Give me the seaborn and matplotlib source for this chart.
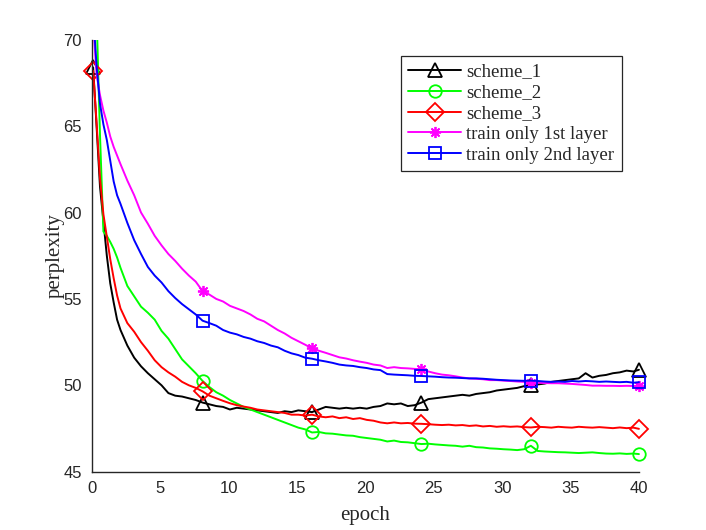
import numpy as np
import pandas as pd
import matplotlib
matplotlib.use("Agg")
import matplotlib.pyplot as plt
from matplotlib.patches import Rectangle
import seaborn as sns

# ---------------- data ----------------
epochs = [0.1, 0.35, 0.6, 0.85, 1.1, 1.35, 1.6, 1.85,
          2.1, 2.6, 3.1, 3.6, 4.1, 4.6, 5.1, 5.6, 6.1, 6.6, 7.1, 7.6,
          8.1, 8.6, 9.1, 9.6, 10.1, 10.6, 11.1, 11.6, 12.1, 12.6,
          13.1, 13.6, 14.1, 14.6, 15.1, 15.6, 16.1, 16.6, 17.1, 17.6,
          18.1, 18.6, 19.1, 19.6, 20.1, 20.6, 21.1, 21.6, 22.1, 22.6,
          23.1, 23.6, 24.1, 24.6, 25.1, 25.6, 26.1, 26.6, 27.1, 27.6,
          28.1, 28.6, 29.1, 29.6, 30.1, 30.6, 31.1, 31.6, 32.1, 32.6,
          33.1, 33.6, 34.1, 34.6, 35.1, 35.6, 36.1, 36.6, 37.1, 37.6,
          38.1, 38.6, 39.1, 39.6, 40.0]

scheme_1 = [68.4, 65.0, 61.5, 59.5, 57.5, 55.9, 54.8, 53.8,
            53.2, 52.3, 51.6, 51.1, 50.7, 50.35, 50.0, 49.55, 49.4, 49.35, 49.25, 49.15,
            49.0, 48.9, 48.8, 48.75, 48.6, 48.7, 48.65, 48.6, 48.55, 48.5,
            48.45, 48.4, 48.5, 48.45, 48.55, 48.5, 48.45, 48.6, 48.75, 48.7,
            48.65, 48.7, 48.65, 48.7, 48.65, 48.75, 48.8, 48.95, 48.9, 48.95,
            48.8, 48.85, 49.0, 49.2, 49.25, 49.3, 49.35, 49.4, 49.45, 49.4,
            49.5, 49.55, 49.6, 49.7, 49.75, 49.8, 49.85, 49.95, 50.0, 50.05,
            50.1, 50.2, 50.25, 50.3, 50.35, 50.4, 50.7, 50.45, 50.55, 50.6,
            50.7, 50.75, 50.85, 50.8, 50.9]

scheme_2 = [75.0, 71.5, 64.5, 58.9, 58.65, 58.3, 57.9, 57.4,
            56.8, 55.75, 55.15, 54.55, 54.2, 53.8, 53.15, 52.7, 52.1, 51.5, 51.1, 50.7,
            50.25, 49.9, 49.6, 49.4, 49.15, 48.95, 48.75, 48.6, 48.45, 48.3,
            48.15, 48.0, 47.85, 47.7, 47.55, 47.45, 47.27, 47.3, 47.22, 47.2,
            47.15, 47.1, 47.08, 47.0, 46.95, 46.9, 46.85, 46.75, 46.8, 46.72,
            46.7, 46.65, 46.6, 46.62, 46.58, 46.55, 46.52, 46.5, 46.45, 46.5,
            46.42, 46.4, 46.35, 46.33, 46.3, 46.28, 46.25, 46.3, 46.5, 46.2,
            46.17, 46.15, 46.13, 46.12, 46.1, 46.08, 46.1, 46.12, 46.08, 46.05,
            46.04, 46.06, 46.03, 46.05, 46.02]

scheme_3 = [68.2, 65.2, 62.0, 59.9, 58.6, 57.3, 56.2, 55.2,
            54.45, 53.6, 53.1, 52.5, 52.0, 51.45, 51.05, 50.75, 50.5, 50.2, 50.0, 49.85,
            49.65, 49.4, 49.25, 49.1, 48.96, 48.85, 48.77, 48.7, 48.6, 48.55,
            48.5, 48.45, 48.4, 48.3, 48.3, 48.25, 48.3, 48.2, 48.15, 48.2,
            48.1, 48.15, 48.05, 48.1, 48.0, 47.95, 47.85, 47.8, 47.85, 47.8,
            47.82, 47.78, 47.77, 47.75, 47.72, 47.7, 47.72, 47.68, 47.7, 47.65,
            47.68, 47.62, 47.65, 47.6, 47.63, 47.6, 47.62, 47.58, 47.56, 47.6,
            47.58, 47.55, 47.6, 47.57, 47.55, 47.6, 47.57, 47.55, 47.58, 47.55,
            47.52, 47.56, 47.52, 47.55, 47.48]

train_1st = [71.0, 68.0, 66.8, 65.9, 65.2, 64.4, 63.8, 63.3,
             62.8, 61.85, 61.0, 60.0, 59.35, 58.65, 58.1, 57.6, 57.2, 56.75, 56.35, 56.0,
             55.45, 55.25, 55.0, 54.85, 54.6, 54.45, 54.3, 54.1, 53.85, 53.7,
             53.45, 53.2, 53.0, 52.75, 52.55, 52.35, 52.14, 52.0, 51.88, 51.75,
             51.62, 51.55, 51.45, 51.37, 51.3, 51.2, 51.15, 51.0, 51.05, 51.0,
             50.98, 50.95, 50.93, 50.8, 50.7, 50.62, 50.58, 50.52, 50.45, 50.4,
             50.38, 50.35, 50.3, 50.3, 50.27, 50.25, 50.22, 50.2, 50.16, 50.15,
             50.13, 50.12, 50.12, 50.1, 50.08, 50.05, 50.02, 49.98, 49.98, 49.97,
             49.97, 49.96, 49.97, 49.96, 49.97]

train_2nd = [71.5, 68.5, 66.3, 65.1, 64.2, 63.0, 61.8, 61.0,
             60.5, 59.4, 58.4, 57.6, 56.85, 56.35, 55.95, 55.45, 55.05, 54.7, 54.4, 54.1,
             53.74, 53.6, 53.45, 53.2, 53.05, 52.95, 52.8, 52.7, 52.55, 52.45,
             52.3, 52.2, 52.0, 51.85, 51.75, 51.6, 51.54, 51.45, 51.38, 51.3,
             51.2, 51.15, 51.12, 51.05, 51.0, 50.92, 50.88, 50.65, 50.62, 50.6,
             50.58, 50.55, 50.54, 50.52, 50.5, 50.47, 50.45, 50.44, 50.42, 50.4,
             50.4, 50.38, 50.35, 50.32, 50.3, 50.28, 50.27, 50.26, 50.27, 50.25,
             50.22, 50.2, 50.22, 50.2, 50.25, 50.22, 50.25, 50.23, 50.2, 50.22,
             50.2, 50.18, 50.2, 50.15, 50.18]

series_names = ["scheme_1", "scheme_2", "scheme_3",
                "train only 1st layer", "train only 2nd layer"]
marker_epochs = [0.1, 8.1, 16.1, 24.1, 32.1, 40.0]
x_ticks = [0, 5, 10, 15, 20, 25, 30, 35, 40]
y_ticks = [45, 50, 55, 60, 65, 70]

# ---------------- style ----------------
sns.set_style("white")
plt.rcParams["font.family"] = ["Liberation Sans", "DejaVu Sans"]

colors = ["#000000", "#00ff00", "#ff0000", "#ff00ff", "#0000ff"]
markers = ["^", "o", "D", (8, 2, 0), "s"]
msizes = [10, 9, 9, 8, 8.5]

values = [scheme_1, scheme_2, scheme_3, train_1st, train_2nd]
frames = []
for name, vals in zip(series_names, values):
    frames.append(pd.DataFrame({"epoch": epochs, "perplexity": vals, "series": name}))
df = pd.concat(frames, ignore_index=True)

ep_arr = np.array(epochs)
mark_idx = [int(np.argmin(np.abs(ep_arr - m))) for m in marker_epochs]

fig = plt.figure(figsize=(7.06, 5.30), dpi=100)
ax = fig.add_axes([0.13, 0.11, 0.775, 0.815])

for name, c, m, ms in zip(series_names, colors, markers, msizes):
    sub = df[df["series"] == name]
    sns.lineplot(data=sub, x="epoch", y="perplexity", ax=ax, color=c,
                 estimator=None, sort=False, linewidth=1.4, label=name,
                 marker=m, markersize=ms, markevery=mark_idx,
                 markerfacecolor="none", markeredgecolor=c, markeredgewidth=1.3)

ax.set_xlim(0, 40)
ax.set_ylim(45, 70)
ax.set_xticks(x_ticks)
ax.set_yticks(y_ticks)

clip_rect = Rectangle((-0.05, -0.05), 1.1, 1.05, transform=ax.transAxes)
for ln in ax.get_lines():
    ln.set_clip_path(clip_rect)

for side in ["top", "right"]:
    ax.spines[side].set_visible(False)
for side in ["left", "bottom"]:
    ax.spines[side].set_color("#262626")
    ax.spines[side].set_linewidth(1.0)

ax.tick_params(axis="both", direction="in", length=5, width=1.0,
               colors="#262626", labelsize=12, pad=7)

serif = ["Liberation Serif", "DejaVu Serif"]
ax.set_xlabel("epoch", family=serif, fontsize=15, color="#262626", labelpad=7)
ax.set_ylabel("perplexity", family=serif, fontsize=15, color="#262626", labelpad=-0.5)

leg = ax.legend(loc="upper right", bbox_to_anchor=(0.969, 0.963),
                prop={"family": serif, "size": 13.5},
                frameon=True, fancybox=False, shadow=False,
                edgecolor="#262626", framealpha=1.0,
                handlelength=2.8, handletextpad=0.3, labelspacing=0.2,
                borderpad=0.4, borderaxespad=0.0)
leg.get_frame().set_linewidth(0.9)

fig.savefig("out.png", dpi=100)
